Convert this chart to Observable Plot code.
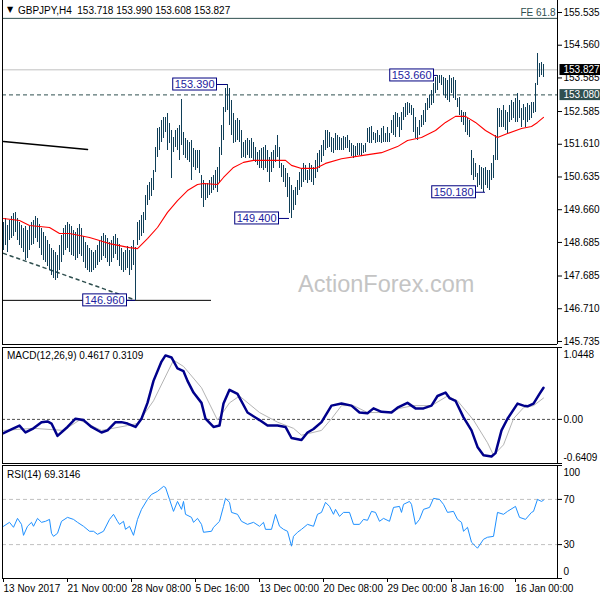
<!DOCTYPE html>
<html><head><meta charset="utf-8">
<script src="https://cdn.jsdelivr.net/npm/d3@7"></script>
<script src="https://cdn.jsdelivr.net/npm/@observablehq/plot@0.6"></script>
<style>
body{margin:0;background:#fff;}
#chart{position:relative;width:600px;height:600px;overflow:hidden;font-family:"Liberation Sans",Arial,sans-serif;background:#fff;}
#chart svg{position:absolute;left:0;}
.lbl{position:absolute;font-size:10px;line-height:10px;color:#000;white-space:pre;}
</style></head><body><div id="chart"></div>
<script>
// ---------- data ----------
const symbolTitle = "GBPJPY,H4  153.718 153.990 153.608 153.827";
const macdTitle = "MACD(12,26,9) 0.4617 0.3109";
const rsiTitle = "RSI(14) 69.3146";
const watermark = "ActionForex.com";

const barHigh = [
149.28,149.40,149.19,149.34,149.46,149.55,149.58,149.40,149.28,149.19,
149.10,149.16,149.04,149.16,149.28,149.34,149.46,149.40,149.22,149.10,
148.98,148.86,148.74,148.62,148.50,148.45,148.39,148.30,148.59,148.89,
149.10,149.19,149.28,149.22,149.16,149.04,148.98,149.10,149.22,149.10,
148.86,148.68,148.59,148.50,148.45,148.39,148.45,148.59,148.74,148.86,
148.95,148.89,148.80,148.68,148.74,148.86,148.92,148.80,148.62,148.50,
148.39,148.45,148.56,148.45,148.56,148.74,148.53,149.28,149.34,149.49,
149.58,150.08,150.38,150.47,150.59,150.83,151.51,152.08,152.11,152.32,
152.41,152.41,152.53,152.23,152.02,151.81,152.02,152.08,152.17,152.94,
151.96,151.78,151.72,151.66,151.72,151.48,151.42,151.42,151.42,150.68,
150.53,150.44,150.44,150.53,150.62,150.68,150.83,150.92,151.51,152.17,
152.70,153.27,153.39,153.27,152.91,152.53,152.32,152.38,152.32,152.02,
151.66,151.72,151.78,151.72,151.78,151.66,151.51,151.36,151.42,151.48,
151.51,151.57,151.42,151.21,151.36,151.42,151.57,151.87,151.51,151.04,
150.98,150.89,150.74,150.62,150.38,150.23,150.32,150.53,150.77,150.89,
151.04,150.98,150.83,151.04,150.98,150.92,151.13,151.33,151.42,151.57,
151.72,152.02,152.02,151.96,151.81,151.78,151.93,151.87,151.81,151.78,
151.84,151.81,151.87,151.72,151.63,151.57,151.54,151.63,151.63,151.63,
151.57,151.63,152.08,152.11,152.14,151.96,151.93,152.02,151.87,152.08,
152.14,151.93,152.11,151.93,152.32,152.47,152.55,152.53,152.41,152.55,
152.70,152.82,152.85,152.82,152.76,152.67,152.41,152.11,152.32,152.47,
152.61,152.82,152.97,153.06,153.21,153.42,153.60,153.66,153.66,153.66,
153.60,153.57,153.51,153.66,153.57,153.60,153.51,152.97,153.00,152.61,
152.55,152.55,152.38,152.32,151.42,151.18,151.04,150.74,150.98,150.92,
150.89,150.92,150.83,150.83,151.04,151.27,151.87,152.67,152.67,152.61,
152.76,152.61,152.55,152.76,152.91,152.85,152.97,153.12,152.91,152.67,
152.79,152.70,152.82,152.76,152.85,152.85,153.42,154.31,154.02,154.04,
153.99];
const barLow = [
148.45,148.59,148.39,148.74,148.80,148.86,148.98,148.74,148.59,148.50,
148.39,148.15,148.21,148.45,148.59,148.62,148.80,148.68,148.50,148.30,
148.15,148.09,147.97,147.85,147.70,147.61,147.55,147.61,147.85,148.09,
148.30,148.45,148.50,148.39,148.30,148.27,148.15,148.21,148.33,148.27,
148.09,147.91,147.85,147.79,147.79,147.85,147.91,148.00,148.09,148.15,
148.27,148.21,148.09,147.97,148.09,148.21,148.33,148.15,147.97,147.85,
147.79,147.85,147.91,147.70,147.85,148.00,146.96,148.59,148.74,148.86,
148.95,149.34,149.78,149.93,150.05,150.23,150.77,151.21,151.42,151.66,
151.78,151.96,151.42,151.63,150.59,151.36,151.51,151.42,151.13,151.57,
151.27,151.18,151.13,151.07,150.53,150.92,150.83,150.89,150.74,149.99,
149.73,149.93,149.99,150.08,150.14,150.23,150.29,150.17,150.44,151.27,
151.72,152.55,152.61,152.17,151.87,151.63,151.66,151.72,151.66,151.18,
151.21,151.18,151.27,151.18,151.18,151.13,151.07,150.98,150.89,150.89,
150.83,150.89,150.77,150.47,150.77,150.89,151.07,151.21,150.89,150.62,
150.47,150.32,150.02,149.55,149.40,149.64,149.78,150.08,150.23,150.32,
150.47,150.53,150.44,150.53,150.47,150.38,150.59,150.77,150.89,151.07,
151.24,151.42,151.48,151.51,151.36,151.33,151.42,151.42,151.42,151.42,
151.42,151.48,151.48,151.36,151.24,151.18,151.21,151.27,151.27,151.27,
151.33,151.36,151.66,151.63,151.63,151.72,151.63,151.66,151.66,151.63,
151.66,151.66,151.66,151.66,151.93,151.87,151.81,152.11,151.81,152.02,
152.32,152.41,152.47,152.53,152.47,151.96,151.78,151.72,151.87,152.11,
152.17,152.26,152.61,152.67,152.76,152.82,153.12,153.21,153.42,153.36,
153.06,152.97,152.91,152.85,153.12,152.97,152.91,152.70,152.47,152.26,
152.17,151.96,151.87,151.81,150.68,150.53,150.62,150.32,150.38,150.25,
150.18,150.38,150.29,150.23,150.53,150.59,151.13,151.13,152.11,152.11,
152.11,152.02,151.93,152.26,152.32,152.38,152.26,152.26,152.38,152.11,
152.32,152.11,152.26,152.32,152.38,152.53,152.55,153.36,153.60,153.66,
153.61];

const maBar = [0,8,13,23,28,33,43,48,53,63,67,72,77,82,87,92,97,100,107,110,115,120,125,138,141,144,149,156,161,169,179,189,197,202,209,216,221,226,231,236,241,247,252,259,264,267,270];
const maVal = [149.40,149.34,149.19,149.13,148.95,148.95,148.83,148.74,148.65,148.53,148.50,148.80,149.13,149.58,149.93,150.23,150.41,150.44,150.41,150.62,150.92,151.07,151.13,151.13,151.13,150.98,150.89,150.89,151.04,151.18,151.27,151.36,151.54,151.72,151.81,152.02,152.26,152.44,152.44,152.26,152.02,151.81,151.93,152.08,152.14,152.26,152.41];

const macdBar = [0,5,8,11,15,19,22,24,27,32,36,40,44,49,52,56,59,62,66,69,72,75,79,81,84,87,90,92,95,99,101,105,108,110,113,117,122,128,132,137,141,144,149,152,155,159,164,169,174,178,182,185,189,194,197,202,206,210,214,217,221,223,226,230,234,237,240,244,246,249,252,257,260,262,265,268,270];
const macdVal = [-0.20,-0.13,-0.09,-0.19,-0.13,-0.04,-0.03,-0.06,-0.24,-0.11,0.01,-0.01,-0.11,-0.19,-0.16,-0.04,-0.04,-0.06,-0.11,0.01,0.24,0.56,0.84,0.93,0.90,0.74,0.70,0.56,0.39,0.24,0.01,-0.11,-0.09,0.23,0.43,0.37,0.10,-0.01,-0.09,-0.09,-0.11,-0.27,-0.30,-0.19,-0.14,-0.04,0.20,0.23,0.20,0.10,0.09,0.16,0.11,0.10,0.17,0.24,0.16,0.16,0.20,0.34,0.39,0.31,0.27,0.03,-0.16,-0.40,-0.52,-0.54,-0.49,-0.16,0.01,0.23,0.20,0.19,0.23,0.37,0.46];
const sigBar = [0,15,30,38,49,62,67,75,85,90,99,107,113,118,128,137,145,149,159,164,169,175,182,192,198,205,214,222,227,235,242,245,250,255,260,265,270];
const sigVal = [-0.16,-0.13,-0.16,-0.01,-0.16,-0.09,-0.06,0.27,0.86,0.77,0.46,-0.01,0.24,0.34,0.10,-0.04,-0.13,-0.23,-0.16,0.01,0.20,0.20,0.10,0.10,0.16,0.20,0.20,0.34,0.27,-0.01,-0.34,-0.52,-0.37,0.01,0.17,0.20,0.31];
const macdMax = 1.0448, macdMin = -0.6409;

const rsiBar = [0,3,5,7,9,10,12,14,15,17,19,21,23,24,25,27,29,32,35,37,40,43,45,47,50,53,55,57,58,60,61,63,65,67,69,72,74,77,80,81,83,85,87,89,90,91,94,95,97,99,100,104,105,108,110,111,113,114,117,119,122,125,128,130,131,134,136,138,140,142,144,145,147,149,152,155,157,159,161,163,165,166,168,170,173,175,178,180,182,184,186,188,190,193,195,198,199,200,203,204,206,208,210,213,215,218,220,222,225,227,229,230,232,234,236,237,240,242,245,247,250,252,256,258,261,264,265,267,269,270];
const rsiVal = [46.2,49.7,45.3,53.2,47.9,38.2,46.2,49.7,46.2,53.2,49.7,50.6,52.3,40.0,37.3,40.0,50.6,54.1,52.3,49.7,46.2,41.8,41.8,39.1,41.8,52.3,56.8,50.6,47.9,50.6,43.5,46.2,38.2,52.3,61.2,70.0,74.4,77.1,81.5,80.6,70.0,59.4,68.2,61.2,68.2,56.8,54.1,49.7,53.2,47.9,40.9,41.8,45.3,50.6,63.8,70.9,67.4,58.5,56.8,50.6,47.9,49.7,46.2,49.7,43.5,43.5,56.8,46.2,43.5,41.8,28.6,37.3,40.9,43.5,47.9,46.2,56.8,58.5,67.4,63.8,56.8,61.2,55.0,58.5,58.5,47.9,47.9,52.3,51.5,59.4,58.5,50.6,53.2,50.6,62.9,63.8,58.5,65.6,68.2,65.6,47.9,52.3,61.2,62.9,70.9,70.0,65.6,58.5,59.4,52.3,49.7,41.8,45.3,32.1,28.6,26.8,34.7,36.5,37.3,58.5,56.8,59.4,63.8,54.1,52.3,58.5,59.4,70.0,68.2,69.3];
const rsiLevels = [30, 70];
const rsiTicks = [0, 30, 70, 100];

const priceTicks = [145.735,146.710,147.685,148.685,149.660,150.635,151.610,152.585,153.585,154.560,155.535];
const timeTickBar = [0,32,64,96,128,160,192,224,256];
const timeTickLabel = ["13 Nov 2017","21 Nov 00:00","28 Nov 08:00","5 Dec 16:00","13 Dec 00:00","20 Dec 08:00","29 Dec 00:00","8 Jan 16:00","16 Jan 00:00"];

const lastPrice = 153.827;
const levelPrice = 153.080;
const feLevel = 155.36;
const feLabel = "FE 61.8";
const tagPrice = [153.827, 153.080];
const tagBg = ["#000000", "#2f4f4f"];

const trendBar = [0, 42], trendPrice = [151.69, 151.45];
const channelBar = [0, 65], channelPrice = [148.36, 146.99];
const supportBar = [0, 104], supportPrice = 146.96;

const annBar = [112, 217, 143, 241, 66];
const annPrice = [153.39, 153.66, 149.40, 150.18, 146.96];
const annTail = [5.5, 2, 5.5, 5, 4.5];

// ---------- build ----------
const bars = d3.range(barHigh.length);
const ma = maBar.map((b, k) => ({bar: b, v: maVal[k]}));
const macdD = macdBar.map((b, k) => ({bar: b, v: macdVal[k]}));
const sigD = sigBar.map((b, k) => ({bar: b, v: sigVal[k]}));
const rsiD = rsiBar.map((b, k) => ({bar: b, v: rsiVal[k]}));
const trend = trendBar.map((b, k) => ({bar: b, v: trendPrice[k]}));
const channel = channelBar.map((b, k) => ({bar: b, v: channelPrice[k]}));
const anns = annBar.map((b, k) => ({bar: b, price: annPrice[k], tail: annTail[k], label: annPrice[k].toFixed(3)}));
const tags = tagPrice.map((p) => ({price: p, label: p.toFixed(3)}));

const xDomain = [-0.5, 277];
const W = 600, ML = 2, MR = 43;
const barColor = "#103f58";
const annColor = "#1c1ca0";
const baseStyle = {fontFamily: '"Liberation Sans", Arial, sans-serif', fontSize: "10px", background: "transparent", overflow: "visible"};
const yMain = [145.645, 155.892];

const main = Plot.plot({
  width: W, height: 345, marginLeft: ML, marginRight: MR, marginTop: 0, marginBottom: 1,
  style: baseStyle,
  x: {domain: xDomain, axis: null},
  y: {domain: yMain, axis: null},
  marks: [
    Plot.ruleY([feLevel], {stroke: "#2f4f4f"}),
    Plot.ruleY([lastPrice], {stroke: "#c0c0c0"}),
    Plot.ruleY([levelPrice], {stroke: "#2f4f4f", strokeDasharray: "4,3"}),
    Plot.line(channel, {x: "bar", y: "v", stroke: "#2f4f4f", strokeDasharray: "3,4"}),
    Plot.line(trend, {x: "bar", y: "v", stroke: "#000"}),
    Plot.ruleY([supportPrice], {x1: supportBar[0] - 0.5, x2: supportBar[1], stroke: "#000"}),
    Plot.ruleX(bars, {x: (d) => d, y1: (d) => barLow[d], y2: (d) => barHigh[d], stroke: barColor, strokeWidth: 1, shapeRendering: "crispEdges"}),
    Plot.line(ma, {x: "bar", y: "v", stroke: "#ff0000", strokeWidth: 1.1}),
    Plot.ruleY(anns, {y: "price", x1: (d) => d.bar - d.tail, x2: "bar", stroke: "#000080"}),
    Plot.text(anns, {x: (d) => d.bar - d.tail, y: "price", text: "label", textAnchor: "end", dx: -2, fill: annColor, fontSize: 11}),
    Plot.ruleX([xDomain[0]], {stroke: "#000"}),
    Plot.ruleX([xDomain[1]], {stroke: "#000"}),
    Plot.ruleY([yMain[0]], {stroke: "#000"}),
    Plot.axisY(priceTicks, {anchor: "right", tickSize: 4, tickPadding: 2, tickFormat: (d) => d.toFixed(3), label: null}),
    Plot.text(tags, {y: "price", text: "label", frameAnchor: "right", textAnchor: "start", dx: 6, fill: "white"}),
    Plot.text([feLevel], {y: (d) => d, text: () => feLabel, frameAnchor: "right", textAnchor: "end", dx: -2, dy: -6, fill: "#2f4f4f"})
  ]
});

const macd = Plot.plot({
  width: W, height: 120, marginLeft: ML, marginRight: MR, marginTop: 2, marginBottom: 2,
  style: baseStyle,
  x: {domain: xDomain, axis: null},
  y: {domain: [macdMin, macdMax], axis: null},
  marks: [
    Plot.ruleY([0], {stroke: "#505050", strokeDasharray: "3,2"}),
    Plot.line(sigD, {x: "bar", y: "v", stroke: "#b4b4b4", strokeWidth: 1}),
    Plot.line(macdD, {x: "bar", y: "v", stroke: "#00008b", strokeWidth: 2.5}),
    Plot.frame({stroke: "#000"}),
    Plot.axisY([macdMin, 0, macdMax], {anchor: "right", tickSize: 4, tickPadding: 2, tickFormat: (d) => d === 0 ? "0.00" : "", label: null}),
    Plot.text([macdMax], {y: (d) => d, text: (d) => String(d), frameAnchor: "right", textAnchor: "start", dx: 6, dy: 7}),
    Plot.text([macdMin], {y: (d) => d, text: (d) => String(d), frameAnchor: "right", textAnchor: "start", dx: 6, dy: -6})
  ]
});

const rsi = Plot.plot({
  width: W, height: 137, marginLeft: ML, marginRight: MR, marginTop: 2, marginBottom: 22,
  style: baseStyle,
  x: {domain: xDomain, axis: null},
  y: {domain: [0, 100], axis: null},
  marks: [
    Plot.ruleY(rsiLevels, {stroke: "#c0c0c0", strokeDasharray: "4,3"}),
    Plot.line(rsiD, {x: "bar", y: "v", stroke: "#1e90ff", strokeWidth: 1}),
    Plot.frame({stroke: "#000"}),
    Plot.axisY(rsiTicks, {anchor: "right", tickSize: 4, tickPadding: 2, tickFormat: (d) => rsiLevels.includes(d) ? String(d) : "", label: null}),
    Plot.text([rsiTicks[3]], {y: (d) => d, text: (d) => String(d), frameAnchor: "right", textAnchor: "start", dx: 6, dy: 7}),
    Plot.text([rsiTicks[0]], {y: (d) => d, text: (d) => String(d), frameAnchor: "right", textAnchor: "start", dx: 6, dy: -7}),
    Plot.axisX(timeTickBar, {anchor: "bottom", tickSize: 4, tickPadding: 2, textAnchor: "start", tickFormat: (d) => timeTickLabel[timeTickBar.indexOf(d)], label: null})
  ]
});

const chart = document.getElementById("chart");
main.style.top = "0px"; macd.style.top = "345px"; rsi.style.top = "463px";
chart.append(main, macd, rsi);

function addLabel(text, left, top, extra) {
  const d = document.createElement("div");
  d.className = "lbl";
  d.textContent = text;
  d.style.left = left + "px"; d.style.top = top + "px";
  if (extra) Object.assign(d.style, extra);
  chart.append(d);
  return d;
}
addLabel("\u25BC", 7, 5, {fontSize: "8px", fontFamily: '"DejaVu Sans", sans-serif'});
addLabel(symbolTitle, 18, 5.5);
addLabel(macdTitle, 7, 350.5);
addLabel(rsiTitle, 7, 469.5);
addLabel(watermark, 298, 272, {fontSize: "23.5px", lineHeight: "24px", color: "#c4c4c4"});

// boxes behind annotation / tag texts
const NS = "http://www.w3.org/2000/svg";
function boxes(svg, fill, make) {
  svg.querySelectorAll(`g[fill="${fill}"] text`).forEach((t, k) => {
    const bb = t.getBBox();
    const r = document.createElementNS(NS, "rect");
    make(r, bb, k);
    const tr = t.getAttribute("transform");
    if (tr) r.setAttribute("transform", tr);
    t.parentNode.insertBefore(r, t);
  });
}
boxes(main, annColor, (r, bb) => {
  r.setAttribute("x", bb.x - 2); r.setAttribute("y", bb.y);
  r.setAttribute("width", bb.width + 4); r.setAttribute("height", bb.height);
  r.setAttribute("fill", "white"); r.setAttribute("stroke", "#000080");
});
boxes(main, "white", (r, bb, k) => {
  r.setAttribute("x", bb.x - 4); r.setAttribute("y", bb.y);
  r.setAttribute("width", bb.width + 9); r.setAttribute("height", bb.height);
  r.setAttribute("fill", tagBg[k]); r.setAttribute("stroke", "none");
});
</script></body></html>
